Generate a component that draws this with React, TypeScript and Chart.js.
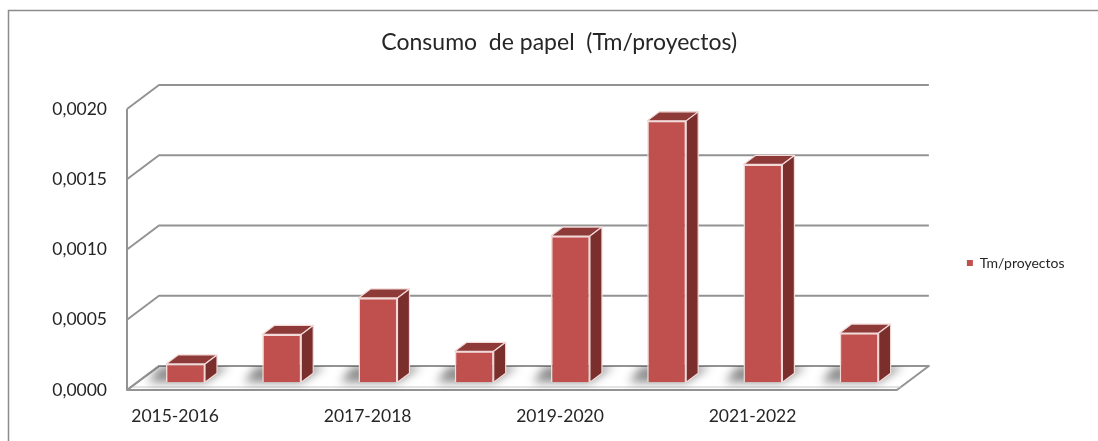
import { useEffect, useRef } from 'react';
import { Chart, registerables } from 'chart.js';

Chart.register(...registerables);

const categories = ['2015-2016', '2016-2017', '2017-2018', '2018-2019', '2019-2020', '2020-2021', '2021-2022', '2022-2023'];
const seriesName = 'Tm/proyectos';
const values = [0.00013, 0.00034, 0.0006, 0.00022, 0.00104, 0.00186, 0.00155, 0.00035];
const yTickValues = [0, 0.0005, 0.001, 0.0015, 0.002];
const titleText = 'Consumo  de papel  (Tm/proyectos)';

const FONT = 'Lato';
const TEXT_COLOR = '#262626';
const GRID_COLOR = '#939393';
const FRONT = '#c0504d';
const TOP = '#8e3a38';
const SIDE = '#7a2f2d';
const EDGE = '#f2dad9';

const DEPTH_X = 32;
const DEPTH_Y = 24;
const BAR_PLANE = 0.325;
const BAR_DX = 12;
const BAR_DY = 9;

const threeD = {
  id: 'threeD',
  beforeDraw(chart: any) {
    const ctx = chart.ctx;
    ctx.save();
    ctx.strokeStyle = '#8c8c8c';
    ctx.lineWidth = 1.5;
    ctx.beginPath();
    ctx.moveTo(8.5, chart.height);
    ctx.lineTo(8.5, 10.5);
    ctx.lineTo(chart.width, 10.5);
    ctx.stroke();
    ctx.restore();
  },
  beforeDatasetsDraw(chart: any) {
    const { ctx, chartArea: a, scales } = chart;
    const y = scales.y;
    const b = y.getPixelForValue(0);
    ctx.save();
    // floor
    ctx.beginPath();
    ctx.moveTo(a.left, b);
    ctx.lineTo(a.left + DEPTH_X, b - DEPTH_Y);
    ctx.lineTo(a.right + DEPTH_X, b - DEPTH_Y);
    ctx.lineTo(a.right, b);
    ctx.closePath();
    ctx.fillStyle = '#ffffff';
    ctx.fill();
    ctx.strokeStyle = GRID_COLOR;
    ctx.lineWidth = 2;
    ctx.lineJoin = 'round';
    ctx.stroke();
    ctx.beginPath();
    ctx.strokeStyle = '#c8c8c8';
    ctx.lineWidth = 1;
    ctx.moveTo(a.left + 4, b - 3);
    ctx.lineTo(a.right + 4, b - 3);
    ctx.stroke();
    // gridlines
    ctx.strokeStyle = GRID_COLOR;
    ctx.lineWidth = 2;
    y.ticks.forEach((t: any) => {
      const yy = y.getPixelForValue(t.value);
      ctx.beginPath();
      ctx.moveTo(a.left, yy);
      ctx.lineTo(a.left + DEPTH_X, yy - DEPTH_Y);
      ctx.lineTo(a.right + DEPTH_X, yy - DEPTH_Y);
      ctx.stroke();
    });
    // front left axis
    ctx.beginPath();
    ctx.moveTo(a.left, y.getPixelForValue(y.max));
    ctx.lineTo(a.left, b);
    ctx.stroke();
    ctx.restore();

    // shadows on the floor
    const ox = DEPTH_X * BAR_PLANE;
    const oy = -DEPTH_Y * BAR_PLANE;
    const meta = chart.getDatasetMeta(0);
    ctx.save();
    ctx.beginPath();
    ctx.moveTo(a.left, b);
    ctx.lineTo(a.left + DEPTH_X, b - DEPTH_Y);
    ctx.lineTo(a.right + DEPTH_X, b - DEPTH_Y);
    ctx.lineTo(a.right, b);
    ctx.closePath();
    ctx.clip();
    ctx.filter = 'blur(5px)';
    ctx.fillStyle = 'rgba(0,0,0,0.45)';
    meta.data.forEach((el: any) => {
      const p = el.getProps(['x', 'base', 'width'], true);
      const X = p.x + ox;
      const B = p.base + oy;
      const L = X - p.width / 2;
      const R = X + p.width / 2;
      ctx.beginPath();
      ctx.moveTo(L - 18, B);
      ctx.lineTo(R, B);
      ctx.lineTo(R + BAR_DX + 12, B - 16);
      ctx.lineTo(L - 6, B - 16);
      ctx.closePath();
      ctx.fill();
    });
    ctx.restore();

    ctx.save();
    ctx.translate(ox, oy);
  },
  afterDatasetsDraw(chart: any) {
    const ctx = chart.ctx;
    ctx.restore();
    const ox = DEPTH_X * BAR_PLANE;
    const oy = -DEPTH_Y * BAR_PLANE;
    const meta = chart.getDatasetMeta(0);
    ctx.save();
    ctx.lineWidth = 1.2;
    ctx.lineJoin = 'round';
    ctx.strokeStyle = EDGE;
    meta.data.forEach((el: any) => {
      const p = el.getProps(['x', 'y', 'base', 'width'], true);
      const X = p.x + ox;
      const T = p.y + oy;
      const B = p.base + oy;
      const L = X - p.width / 2;
      const R = X + p.width / 2;
      ctx.beginPath();
      ctx.moveTo(L, T);
      ctx.lineTo(L + BAR_DX, T - BAR_DY);
      ctx.lineTo(R + BAR_DX, T - BAR_DY);
      ctx.lineTo(R, T);
      ctx.closePath();
      ctx.fillStyle = TOP;
      ctx.fill();
      ctx.stroke();
      ctx.beginPath();
      ctx.moveTo(R, T);
      ctx.lineTo(R + BAR_DX, T - BAR_DY);
      ctx.lineTo(R + BAR_DX, B - BAR_DY);
      ctx.lineTo(R, B);
      ctx.closePath();
      ctx.fillStyle = SIDE;
      ctx.fill();
      ctx.stroke();
    });
    ctx.restore();
  },
};

export default function App() {
  const ref = useRef<HTMLCanvasElement>(null);
  useEffect(() => {
    if (!ref.current) return;
    const chart = new Chart(ref.current, {
      type: 'bar',
      data: {
        labels: categories,
        datasets: [
          {
            label: seriesName,
            data: values,
            backgroundColor: FRONT,
            borderColor: EDGE,
            borderWidth: 1.5,
            categoryPercentage: 1,
            barPercentage: 0.405,
            clip: false as any,
          },
        ],
      },
      options: {
        responsive: false,
        animation: false,
        events: [],
        layout: { padding: { left: 44, right: 23.5, top: 0, bottom: 0 } },
        scales: {
          x: {
            type: 'category',
            offset: true,
            grid: { display: false, drawTicks: false },
            border: { display: false },
            ticks: {
              autoSkip: false,
              maxRotation: 0,
              padding: 16,
              color: TEXT_COLOR,
              font: { family: FONT, size: 17.5 },
              callback: (_v: any, i: number) => (i % 2 === 0 ? categories[i] : ''),
            },
            afterFit: (s: any) => {
              s.height = 51;
            },
          },
          y: {
            min: 0,
            max: 0.002,
            afterBuildTicks: (s: any) => {
              s.ticks = yTickValues.map((v) => ({ value: v }));
            },
            grid: { display: false, drawTicks: false },
            border: { display: false },
            ticks: {
              padding: 20,
              color: TEXT_COLOR,
              font: { family: FONT, size: 17.5 },
              callback: (v: any) => Number(v).toFixed(4).replace('.', ','),
            },
            afterFit: (s: any) => {
              s.width = 83;
            },
          },
        },
        plugins: {
          title: {
            display: true,
            text: titleText,
            color: TEXT_COLOR,
            font: { family: FONT, size: 23, weight: 'normal' },
            padding: { top: 29, bottom: 52.4 },
          },
          legend: {
            display: true,
            position: 'right',
            title: { display: true, text: '', font: { size: 12, lineHeight: 1.25 }, padding: { top: 35, bottom: 35 } },
            labels: {
              boxWidth: 6,
              boxHeight: 6,
              padding: 70,
              color: TEXT_COLOR,
              font: { family: FONT, size: 14 },
              generateLabels: (c: any) =>
                Chart.defaults.plugins.legend.labels.generateLabels(c).map((l: any) => ({ ...l, lineWidth: 0 })),
            },
          },
          tooltip: { enabled: false },
        },
      },
      plugins: [threeD],
    });
    return () => chart.destroy();
  }, []);
  return (
    <div style={{ position: 'absolute', left: 0, top: 0, width: 1098, height: 441, background: '#fff' }}>
      <canvas ref={ref} width={1098} height={441} style={{ display: 'block' }} />
    </div>
  );
}
